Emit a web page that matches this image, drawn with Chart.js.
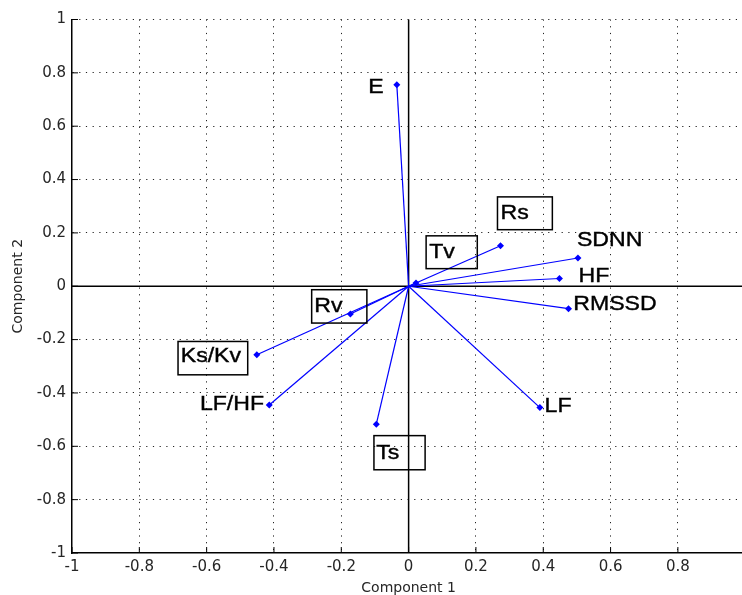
<!DOCTYPE html>
<html>
<head>
<title>Biplot</title>
<script src="https://cdn.jsdelivr.net/npm/chart.js"></script>
<style>
body { margin: 0; overflow: hidden; background: #fff; }
canvas { display: block; }
</style>
</head>
<body>
<canvas id="biplot" width="755" height="595"></canvas>
<script>
// loadings
const variables = ['SDNN', 'RMSSD', 'LF', 'HF', 'LF/HF', 'E', 'Rs', 'Rv', 'Ts', 'Tv', 'Ks/Kv'];
const comp1 = [0.503, 0.475, 0.390, 0.448, -0.414, -0.035, 0.273, -0.173, -0.096, 0.022, -0.451];
const comp2 = [0.106, -0.084, -0.455, 0.029, -0.445, 0.755, 0.152, -0.104, -0.517, 0.012, -0.257];
const tickValues = [-1, -0.8, -0.6, -0.4, -0.2, 0, 0.2, 0.4, 0.6, 0.8, 1];

// where each name is written (data units, left / middle of the text)
const labelX = [0.500, 0.489, 0.404, 0.505, -0.620, -0.120, 0.273, -0.280, -0.096, 0.061, -0.677];
const labelY = [0.171, -0.069, -0.450, 0.039, -0.444, 0.747, 0.274, -0.076, -0.625, 0.127, -0.263];
// boxed names: [x0, y0, x1, y1] in data units
const labelBox = [null, null, null, null, null, null,
    [0.264, 0.335, 0.427, 0.212],
    [-0.288, -0.013, -0.124, -0.138],
    [-0.103, -0.560, 0.049, -0.688],
    [0.052, 0.189, 0.204, 0.066],
    [-0.685, -0.207, -0.478, -0.332]];

const blue = '#0000ff';
const tickFont = {family: '"DejaVu Sans"', size: 15};
const titleFont = {family: '"DejaVu Sans"', size: 14};

const datasets = variables.map((name, i) => ({
    label: name,
    data: [{x: 0, y: 0}, {x: comp1[i], y: comp2[i]}],
    showLine: true,
    borderColor: blue,
    backgroundColor: blue,
    borderWidth: 1.2,
    pointRadius: [0, 3.5],
    pointStyle: 'rectRot',
    pointBorderWidth: 0
}));

function fmt(v) { return String(+v.toFixed(1)); }
function setTicks(scale) { scale.ticks = tickValues.map(v => ({value: v})); }

const decorations = {
    id: 'decorations',
    beforeDatasetsDraw(chart) {
        const {ctx, chartArea: a, scales: {x, y}} = chart;
        ctx.save();
        ctx.strokeStyle = '#000';
        ctx.lineWidth = 1.5;
        const x0 = x.getPixelForValue(0);
        const y0 = y.getPixelForValue(0);
        ctx.beginPath();
        ctx.moveTo(x0, a.top); ctx.lineTo(x0, a.bottom);
        ctx.moveTo(a.left, y0); ctx.lineTo(a.right, y0);
        ctx.stroke();
        // inward tick marks
        ctx.lineWidth = 1;
        ctx.beginPath();
        tickValues.forEach(v => {
            const px = x.getPixelForValue(v);
            ctx.moveTo(px, a.bottom); ctx.lineTo(px, a.bottom - 6);
            const py = y.getPixelForValue(v);
            ctx.moveTo(a.left, py); ctx.lineTo(a.left + 6, py);
        });
        ctx.stroke();
        ctx.restore();
    },
    afterDatasetsDraw(chart) {
        const {ctx, scales: {x, y}} = chart;
        ctx.save();
        ctx.fillStyle = '#000';
        ctx.strokeStyle = '#000';
        ctx.font = '21px "Liberation Sans", Arial, sans-serif';
        ctx.textBaseline = 'middle';
        variables.forEach((name, i) => {
            ctx.save();
            ctx.translate(x.getPixelForValue(labelX[i]), y.getPixelForValue(labelY[i]));
            ctx.scale(1.1, 1);
            ctx.lineWidth = 0.4;
            ctx.fillText(name, 0, 0);
            ctx.strokeText(name, 0, 0);
            ctx.restore();
            const b = labelBox[i];
            if (b) {
                const bx0 = x.getPixelForValue(b[0]), by0 = y.getPixelForValue(b[1]);
                const bx1 = x.getPixelForValue(b[2]), by1 = y.getPixelForValue(b[3]);
                ctx.lineWidth = 1.5;
                ctx.strokeRect(bx0, by0, bx1 - bx0, by1 - by0);
            }
        });
        ctx.restore();
    }
};

new Chart(document.getElementById('biplot'), {
    type: 'scatter',
    data: {datasets: datasets},
    options: {
        responsive: false,
        animation: false,
        layout: {padding: {top: 19.5, right: 0, left: 0, bottom: 0}},
        plugins: {legend: {display: false}, tooltip: {enabled: false}},
        scales: {
            x: {
                type: 'linear', min: -1, max: 1,
                afterBuildTicks: setTicks,
                afterFit(s) { s.height = 42; },
                ticks: {callback: fmt, font: tickFont, color: '#262626', padding: 5, maxRotation: 0, autoSkip: false},
                grid: {
                    drawTicks: false, lineWidth: 1,
                    color: c => (c.tick && (c.tick.value === 0 || c.tick.value === -1)) ? 'rgba(0,0,0,0)' : '#222'
                },
                border: {display: true, color: '#000', width: 1.5, dash: [1.2, 5.5]},
                title: {display: true, text: 'Component 1', font: titleFont, color: '#262626', padding: {top: 0, bottom: -2}}
            },
            y: {
                type: 'linear', min: -1, max: 1,
                afterBuildTicks: setTicks,
                afterFit(s) { s.width = 72; },
                ticks: {callback: fmt, font: tickFont, color: '#262626', padding: 6, autoSkip: false},
                grid: {
                    drawTicks: false, lineWidth: 1,
                    color: c => (c.tick && (c.tick.value === 0 || c.tick.value === -1)) ? 'rgba(0,0,0,0)' : '#222'
                },
                border: {display: true, color: '#000', width: 1.5, dash: [1.2, 5.5]},
                title: {display: true, text: 'Component 2', font: titleFont, color: '#262626', padding: {top: 10, bottom: 0}}
            }
        }
    },
    plugins: [decorations]
});
</script>
</body>
</html>
